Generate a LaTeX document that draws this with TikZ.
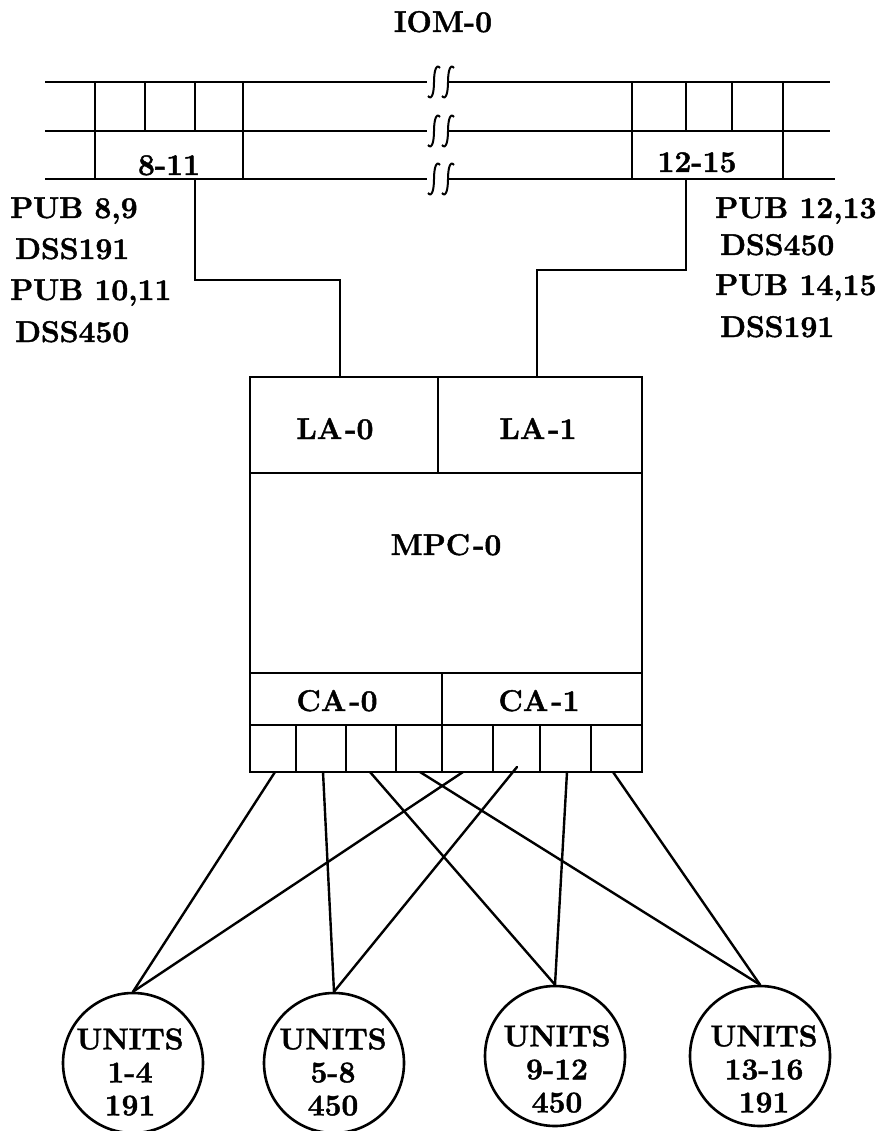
\documentclass[tikz,border=0pt]{standalone}
\usepackage{fontspec}
\setmainfont{Latin Modern Roman}[BoldFeatures={FakeBold=1.5}]
\usetikzlibrary{calc}
\begin{document}
\begin{tikzpicture}[x=1pt,y=-1pt,
  wire/.style={line width=2.4pt, line cap=round},
  bus/.style={line width=2.4pt},
  lbl/.style={font=\fontsize{30}{33}\selectfont\bfseries, inner sep=0pt},
  unit/.style={draw, circle, line width=2.6pt, minimum size=140pt, inner sep=0pt},
  brk/.pic={\draw[line width=2pt] (-6,14) .. controls (-2,19) and (0,10) .. (0,0) .. controls (0,-10) and (2,-19) .. (6,-14);}
]
\useasboundingbox (0,0) rectangle (891,1131);

% title
\node[lbl, anchor=base] (iom) at (443,32) {IOM-0};

% bus lines with breaks
\foreach \yy/\re in {82/830,131/830,179/835}{
  \draw[bus] (45,\yy) -- (427,\yy);
  \draw[bus] (448,\yy) -- (\re,\yy);
  \pic at (434,\yy) {brk};
  \pic at (448,\yy) {brk};
}
% left port block
\draw[bus] (95,82) -- (95,179);
\draw[bus] (243,82) -- (243,179);
\draw[bus] (145,82) -- (145,131);
\draw[bus] (195,82) -- (195,131);
% right port block
\draw[bus] (632,82) -- (632,179);
\draw[bus] (783,82) -- (783,179);
\draw[bus] (686,82) -- (686,131);
\draw[bus] (732,82) -- (732,131);

\node[lbl, anchor=base] (r1) at (169,175) {8-11};
\node[lbl, anchor=base] (r2) at (697,172) {12-15};

% side labels
\node[lbl, anchor=base west] (pl1) at (10,218) {PUB 8,9};
\node[lbl, anchor=base west] (pl2) at (15,259) {DSS191};
\node[lbl, anchor=base west] (pl3) at (10,300) {PUB 10,11};
\node[lbl, anchor=base west] (pl4) at (15,342) {DSS450};
\node[lbl, anchor=base west] (pr1) at (715,218) {PUB 12,13};
\node[lbl, anchor=base west] (pr2) at (720,255) {DSS450};
\node[lbl, anchor=base west] (pr3) at (715,295) {PUB 14,15};
\node[lbl, anchor=base west] (pr4) at (720,337) {DSS191};

% MPC box
\draw[bus] (250,377) rectangle (642,772);
\draw[bus] (438,377) -- (438,473);
\draw[bus] (250,473) -- (642,473);
\draw[bus] (250,673) -- (642,673);
\draw[bus] (250,725) -- (642,725);
\draw[bus] (442,673) -- (442,772);
\foreach \xx in {296,346,396,493,540,591}{\draw[bus] (\xx,725) -- (\xx,772);}

\node[lbl, anchor=base] (la0) at (335,439) {LA\kern3pt-0};
\node[lbl, anchor=base] (la1) at (538,439) {LA\kern3pt-1};
\node[lbl, anchor=base] (mpc) at (446,555) {MPC\kern3pt-0};
\node[lbl, anchor=base] (ca0) at (337,711) {CA\kern3pt-0};
\node[lbl, anchor=base] (ca1) at (539,711) {CA\kern3pt-1};

% bus to LA connectors
\coordinate (b1) at (195,179);
\coordinate (b2) at (686,179);
\coordinate (l1) at (340,377);
\coordinate (l2) at (537,377);
\draw[wire] (b1) -- (195,280) -| (l1);
\draw[wire] (b2) -- (686,270) -| (l2);

% units
\node[unit] (u1) at (133,1063) {};
\node[unit] (u2) at (334,1063) {};
\node[unit] (u3) at (555,1056) {};
\node[unit] (u4) at (760,1056) {};
\node[lbl, align=center] (u1t) at (130,1072) {UNITS\\1-4\\191};
\node[lbl, align=center] (u2t) at (333,1072) {UNITS\\5-8\\450};
\node[lbl, align=center] (u3t) at (557,1069) {UNITS\\9-12\\450};
\node[lbl, align=center] (u4t) at (764,1069) {UNITS\\13-16\\191};

% ports
\coordinate (p1) at (275,772);
\coordinate (p2) at (323,772);
\coordinate (p3) at (370,772);
\coordinate (p4) at (420,772);
\coordinate (p5) at (463,772);
\coordinate (p6) at (517,767);
\coordinate (p7) at (567,772);
\coordinate (p8) at (613,772);

\draw[wire] (p1) -- (u1.north);
\draw[wire] (p5) -- (u1.north);
\draw[wire] (p2) -- (u2.north);
\draw[wire] (p6) -- (u2.north);
\draw[wire] (p3) -- (u3.north);
\draw[wire] (p7) -- (u3.north);
\draw[wire] (p4) -- (u4.north);
\draw[wire] (p8) -- (u4.north);
\end{tikzpicture}
\end{document}
